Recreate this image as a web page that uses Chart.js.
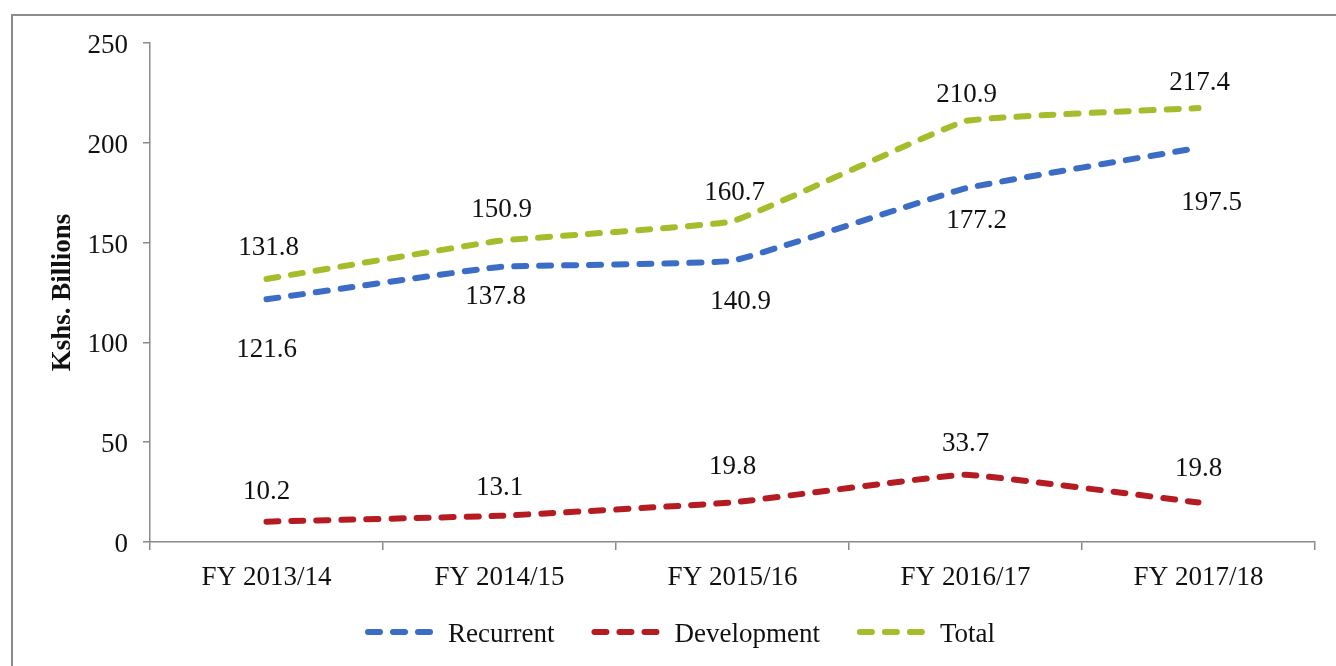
<!DOCTYPE html>
<html>
<head>
<meta charset="utf-8">
<script src="https://cdn.jsdelivr.net/npm/chart.js@4/dist/chart.umd.min.js"></script>
<style>
    html, body { margin: 0; padding: 0; background: #fff; overflow: hidden; }
    canvas { display: block; }
</style>
</head>
<body>
<canvas id="myChart" width="1336" height="666"></canvas>
<script>
const categories = ['FY 2013/14', 'FY 2014/15', 'FY 2015/16', 'FY 2016/17', 'FY 2017/18'];
const recurrent = [121.6, 137.8, 140.9, 177.2, 197.5];
const development = [10.2, 13.1, 19.8, 33.7, 19.8];
const total = [131.8, 150.9, 160.7, 210.9, 217.4];
const yMin = 0;
const yMax = 250;
const yStep = 50;

const serif = "'Liberation Serif', 'Times New Roman', serif";
const axisColor = '#8a8a8a';
const lineColors = ['#3b6cc6', '#b41c22', '#a4bd2a'];

// where each value label sits, relative to its point (px)
const labelShift = [
    [[0, 49], [-4, 28], [8, 39], [11, 31], [13, 53]],
    [[0, -32], [0, -30], [0, -37], [0, -33], [0, -35]],
    [[2, -33], [2, -33], [2, -30], [1, -28], [1, -27]],
];

const framePlugin = {
    id: 'frame',
    beforeDraw(chart) {
        const c = chart.ctx;
        c.save();
        c.fillStyle = '#fff';
        c.fillRect(0, 0, chart.width, chart.height);
        c.strokeStyle = '#8c8c8c';
        c.lineWidth = 2;
        c.beginPath();
        c.moveTo(12, chart.height);
        c.lineTo(12, 15);
        c.lineTo(chart.width, 15);
        c.stroke();
        c.restore();
    },
};

const valueLabels = {
    id: 'valueLabels',
    afterDatasetsDraw(chart) {
        const c = chart.ctx;
        c.save();
        c.font = '27px ' + serif;
        c.fillStyle = '#111';
        c.textAlign = 'center';
        c.textBaseline = 'alphabetic';
        chart.data.datasets.forEach((ds, di) => {
            chart.getDatasetMeta(di).data.forEach((pt, i) => {
                const [dx, dy] = labelShift[di][i];
                c.fillText(ds.data[i].toFixed(1), pt.x + dx, pt.y + dy + 9);
            });
        });
        c.restore();
    },
};

const dashLegend = {
    id: 'dashLegend',
    afterDraw(chart) {
        const c = chart.ctx;
        c.save();
        c.font = '27px ' + serif;
        const sample = 69, gapText = 14, gapItem = 37;
        const items = chart.data.datasets.map(ds => ({
            ds: ds,
            w: c.measureText(ds.label).width,
        }));
        let full = items.reduce((s, it) => s + sample + gapText + it.w, 0) + gapItem * (items.length - 1);
        let x = 680 - full / 2;
        const y = 632;
        items.forEach(it => {
            c.strokeStyle = it.ds.borderColor;
            c.lineWidth = it.ds.borderWidth;
            c.lineCap = 'round';
            c.setLineDash(it.ds.borderDash);
            c.beginPath();
            c.moveTo(x + 3, y);
            c.lineTo(x + sample - 3, y);
            c.stroke();
            c.setLineDash([]);
            c.fillStyle = '#111';
            c.textBaseline = 'alphabetic';
            c.textAlign = 'left';
            c.fillText(it.ds.label, x + sample + gapText, y + 10);
            x += sample + gapText + it.w + gapItem;
        });
        c.restore();
    },
};

function lineSet(label, values, color) {
    return {
        label: label,
        data: values,
        borderColor: color,
        backgroundColor: color,
        borderWidth: 6,
        borderDash: [12, 13],
        borderCapStyle: 'round',
        tension: 0.08,
        pointRadius: 0,
        fill: false,
    };
}

const ctx = document.getElementById('myChart').getContext('2d');
const myChart = new Chart(ctx, {
    type: 'line',
    data: {
        labels: categories,
        datasets: [
            lineSet('Recurrent', recurrent, lineColors[0]),
            lineSet('Development', development, lineColors[1]),
            lineSet('Total', total, lineColors[2]),
        ],
    },
    options: {
        responsive: false,
        animation: false,
        devicePixelRatio: 1,
        layout: { padding: { top: 43, right: 21, bottom: 64, left: 0 } },
        plugins: {
            legend: { display: false },
            tooltip: { enabled: false },
        },
        scales: {
            x: {
                offset: true,
                grid: {
                    offset: true,
                    drawOnChartArea: false,
                    drawTicks: true,
                    tickLength: 8,
                    color: axisColor,
                    lineWidth: 1.5,
                },
                border: { color: axisColor, width: 1.5 },
                ticks: {
                    font: { family: serif, size: 27 },
                    color: '#111',
                    padding: 12,
                    maxRotation: 0,
                },
                afterFit: s => { s.height = 60; },
            },
            y: {
                min: yMin,
                max: yMax,
                grid: {
                    drawOnChartArea: false,
                    drawTicks: true,
                    tickLength: 7,
                    color: axisColor,
                    lineWidth: 1.5,
                },
                border: { color: axisColor, width: 1.5 },
                ticks: {
                    stepSize: yStep,
                    font: { family: serif, size: 27 },
                    color: '#111',
                    padding: 15,
                    labelOffset: 3,
                },
                title: {
                    display: true,
                    text: 'Kshs. Billions',
                    font: { family: serif, size: 27, weight: 'bold' },
                    color: '#111',
                    padding: { top: 47, bottom: 0 },
                },
                afterFit: s => { s.width = 150; },
            },
        },
    },
    plugins: [framePlugin, valueLabels, dashLegend],
});
</script>
</body>
</html>
